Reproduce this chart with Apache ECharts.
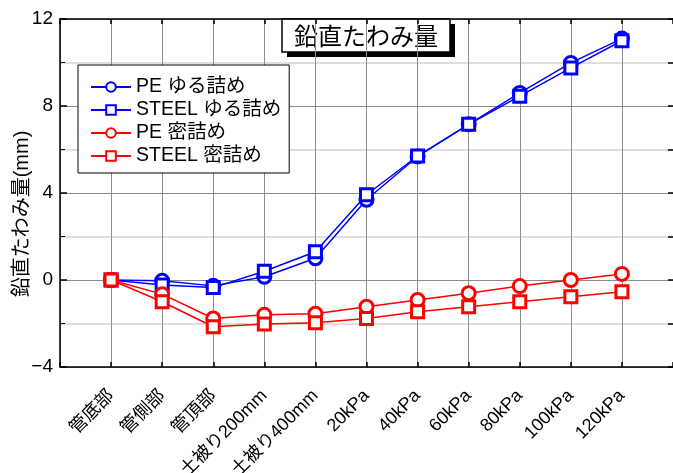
<!DOCTYPE html>
<html>
<head>
<meta charset="utf-8">
<script src="https://cdn.jsdelivr.net/npm/echarts@6/dist/echarts.min.js"></script>
<style>
  html, body { margin: 0; padding: 0; background: #fff; }
  #chart { width: 673px; height: 473px; }
</style>
</head>
<body>
<div id="chart"></div>
<script>
// Measurement stations along the x axis
const categories = ['管底部', '管側部', '管頂部', '土被り200mm', '土被り400mm',
  '20kPa', '40kPa', '60kPa', '80kPa', '100kPa', '120kPa'];

// Vertical deflection (mm) for each pipe / backfill condition
const pePoorValues    = [0, -0.04, -0.27, 0.15, 1.0, 3.69, 5.68, 7.16, 8.6, 9.98, 11.1];
const steelPoorValues = [0, -0.23, -0.35, 0.4, 1.3, 3.92, 5.7, 7.16, 8.45, 9.75, 11.0];
const peDenseValues    = [0, -0.65, -1.77, -1.6, -1.55, -1.23, -0.92, -0.61, -0.28, 0.0, 0.28];
const steelDenseValues = [0, -1.0, -2.15, -2.02, -1.97, -1.77, -1.46, -1.23, -1.0, -0.77, -0.54];

const seriesNames = ['PE ゆる詰め', 'STEEL ゆる詰め', 'PE 密詰め', 'STEEL 密詰め'];
const yTicks = [-4, 0, 4, 8, 12];

const FONT = '"Liberation Sans", "Noto Sans CJK JP", sans-serif';

// pair each value with its 1-based station position on the value axis
function toPoints(values) {
  return values.map((v, i) => [i + 1, v]);
}

function lineSeries(name, values, color, symbol, size) {
  return {
    name: name,
    type: 'line',
    data: toPoints(values),
    symbol: symbol,
    symbolSize: size,
    showAllSymbol: true,
    lineStyle: { color: color, width: 1.5 },
    itemStyle: { color: '#fff', borderColor: color, borderWidth: 3 },
    emphasis: { disabled: true },
    z: 3
  };
}

const frameLine = { show: true, onZero: false, lineStyle: { color: '#000', width: 1.5 } };

const chart = echarts.init(document.getElementById('chart'), null, { renderer: 'canvas' });

chart.setOption({
  animation: false,
  backgroundColor: '#fff',
  textStyle: { fontFamily: FONT },
  grid: { left: 60, right: 0, top: 19, bottom: 106, containLabel: false, outerBoundsMode: 'none' },
  legend: {
    orient: 'vertical',
    left: 78,
    top: 65,
    data: seriesNames,
    itemWidth: 40,
    itemHeight: 12,
    itemGap: 3,
    padding: [12, 8, 7, 12],
    backgroundColor: '#fff',
    borderColor: '#000',
    borderWidth: 1,
    textStyle: { fontSize: 19.5, color: '#000', fontFamily: FONT, lineHeight: 20 },
    selectedMode: false
  },
  xAxis: [{
    type: 'value',
    min: 0,
    max: 12,
    interval: 1,
    axisLine: frameLine,
    axisTick: { show: true, inside: true, length: 5, lineStyle: { color: '#000', width: 1.5 } },
    splitLine: { show: true, lineStyle: { color: '#8c8c8c', width: 1 } },
    axisLabel: {
      rotate: 45,
      margin: 26,
      fontSize: 18,
      color: '#000',
      fontFamily: FONT,
      formatter: function (v) {
        return (v >= 1 && v <= categories.length) ? categories[v - 1] : '';
      }
    }
  }, {
    type: 'value',
    position: 'top',
    min: 0,
    max: 12,
    interval: 1,
    axisLine: frameLine,
    axisTick: { show: true, inside: true, length: 5, lineStyle: { color: '#000', width: 1.5 } },
    axisLabel: { show: false },
    splitLine: { show: false }
  }],
  yAxis: [{
    type: 'value',
    min: yTicks[0],
    max: yTicks[yTicks.length - 1],
    interval: 4,
    axisLine: frameLine,
    axisTick: { show: true, inside: true, length: 7, lineStyle: { color: '#000', width: 1.5 } },
    minorTick: { show: true, splitNumber: 2, length: 5, lineStyle: { color: '#000', width: 1 } },
    splitLine: { show: true, lineStyle: { color: '#8c8c8c', width: 1 } },
    minorSplitLine: { show: true, lineStyle: { color: '#d4d4d4', width: 1.5 } },
    axisLabel: {
      fontSize: 19,
      color: '#000',
      margin: 7,
      fontFamily: FONT,
      formatter: function (v) { return v < 0 ? '\u2212' + Math.abs(v) : String(v); }
    }
  }, {
    type: 'value',
    position: 'right',
    min: yTicks[0],
    max: yTicks[yTicks.length - 1],
    interval: 2,
    axisLine: { show: false, onZero: false },
    axisTick: { show: true, inside: true, length: 5, lineStyle: { color: '#000', width: 1.5 } },
    axisLabel: { show: false },
    splitLine: { show: false }
  }],
  series: [
    lineSeries(seriesNames[0], pePoorValues, '#0000ff', 'circle', 13),
    lineSeries(seriesNames[1], steelPoorValues, '#0000ff', 'rect', 12),
    lineSeries(seriesNames[2], peDenseValues, '#ff0000', 'circle', 13),
    lineSeries(seriesNames[3], steelDenseValues, '#ff0000', 'rect', 12)
  ],
  graphic: [{
    // y-axis title, reading bottom to top
    type: 'text',
    x: 22,
    y: 214,
    rotation: Math.PI / 2,
    style: {
      text: '鉛直たわみ量(mm)',
      font: '20px ' + FONT,
      fill: '#000',
      align: 'center',
      verticalAlign: 'middle'
    }
  }, {
    // boxed chart title with drop shadow
    type: 'group',
    x: 282,
    y: 19,
    children: [{
      type: 'rect',
      shape: { x: 5, y: 5, width: 168, height: 33 },
      style: { fill: '#000' }
    }, {
      type: 'rect',
      shape: { x: 0, y: 0, width: 168, height: 33 },
      style: { fill: '#fff', stroke: '#000', lineWidth: 1.5 }
    }, {
      type: 'text',
      x: 84,
      y: 17,
      style: {
        text: '鉛直たわみ量',
        font: '24px "Noto Sans CJK JP", sans-serif',
        fill: '#000',
        align: 'center',
        verticalAlign: 'middle'
      }
    }]
  }]
});
</script>
</body>
</html>
